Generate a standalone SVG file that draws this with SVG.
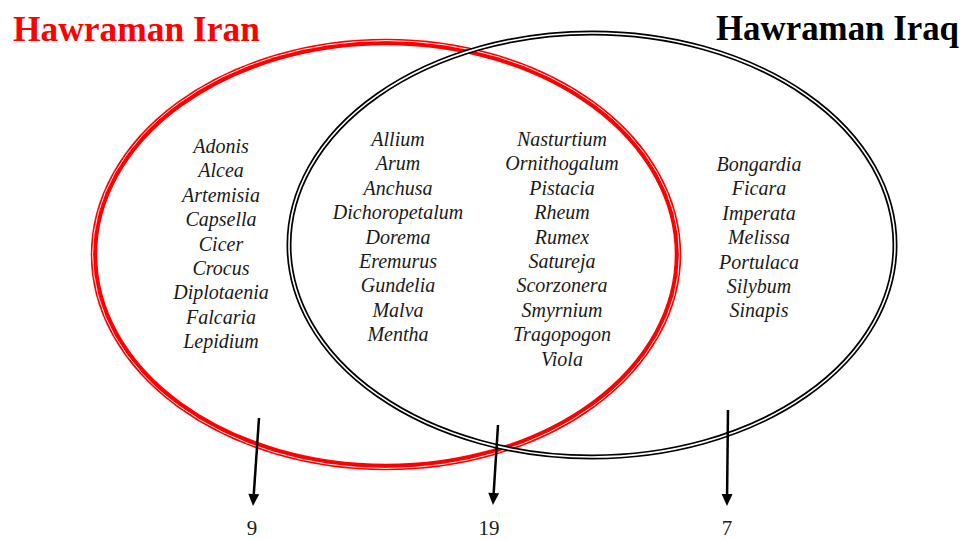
<svg xmlns="http://www.w3.org/2000/svg" width="966" height="539" viewBox="0 0 966 539">
  <style>
    .title { font-family: "Liberation Serif", "Times New Roman", serif; font-weight: bold; font-size: 35px; }
    .sp { font-family: "Liberation Serif", "Times New Roman", serif; font-style: italic; font-size: 20px; fill: #1a1a1a; text-anchor: middle; }
    .num { font-family: "Liberation Serif", "Times New Roman", serif; font-size: 21px; fill: #1a1a1a; text-anchor: middle; }
    .arrow { stroke: #000; stroke-width: 2.5; fill: none; }
    .gap { fill: none; stroke: #fff; }
  </style>
  <defs>
    <marker id="ah" markerUnits="userSpaceOnUse" markerWidth="12" markerHeight="12" refX="0" refY="0" orient="auto" viewBox="0 -5 11 10" overflow="visible">
      <path d="M0,-5 L11,0 L0,5 z" fill="#000"/>
    </marker>
  </defs>
  <rect width="966" height="539" fill="#fff"/>

  <g id="set-iran">
    <ellipse cx="386" cy="254.5" rx="292" ry="212.5" fill="none" stroke="#ff0000" stroke-width="6.5"/>
    <ellipse class="gap" cx="386" cy="254.5" rx="293.4" ry="213.9" stroke-width="0.9"/>
  </g>
  <g id="set-iraq">
    <ellipse cx="592" cy="245" rx="303" ry="212" fill="none" stroke="#000" stroke-width="5"/>
    <ellipse class="gap" cx="592" cy="245" rx="303" ry="212" stroke-width="1.6"/>
  </g>

  <g id="title-iran">
    <text class="title" x="13" y="41" fill="#ff0000" textLength="247" lengthAdjust="spacingAndGlyphs">Hawraman Iran</text>
  </g>
  <g id="title-iraq">
    <text class="title" x="716" y="40" fill="#000" textLength="243" lengthAdjust="spacingAndGlyphs">Hawraman Iraq</text>
  </g>

  <g id="iran-only">
    <text class="sp" x="221" y="153">Adonis</text>
    <text class="sp" x="221" y="177.4">Alcea</text>
    <text class="sp" x="221" y="201.8">Artemisia</text>
    <text class="sp" x="221" y="226.2">Capsella</text>
    <text class="sp" x="221" y="250.6">Cicer</text>
    <text class="sp" x="221" y="275">Crocus</text>
    <text class="sp" x="221" y="299.4">Diplotaenia</text>
    <text class="sp" x="221" y="323.8">Falcaria</text>
    <text class="sp" x="221" y="348.2">Lepidium</text>
  </g>

  <g id="shared">
    <text class="sp" x="398" y="146">Allium</text>
    <text class="sp" x="398" y="170.4">Arum</text>
    <text class="sp" x="398" y="194.8">Anchusa</text>
    <text class="sp" x="398" y="219.2">Dichoropetalum</text>
    <text class="sp" x="398" y="243.6">Dorema</text>
    <text class="sp" x="398" y="268">Eremurus</text>
    <text class="sp" x="398" y="292.4">Gundelia</text>
    <text class="sp" x="398" y="316.8">Malva</text>
    <text class="sp" x="398" y="341.2">Mentha</text>
    <text class="sp" x="562" y="146">Nasturtium</text>
    <text class="sp" x="562" y="170.4">Ornithogalum</text>
    <text class="sp" x="562" y="194.8">Pistacia</text>
    <text class="sp" x="562" y="219.2">Rheum</text>
    <text class="sp" x="562" y="243.6">Rumex</text>
    <text class="sp" x="562" y="268">Satureja</text>
    <text class="sp" x="562" y="292.4">Scorzonera</text>
    <text class="sp" x="562" y="316.8">Smyrnium</text>
    <text class="sp" x="562" y="341.2">Tragopogon</text>
    <text class="sp" x="562" y="365.6">Viola</text>
  </g>

  <g id="iraq-only">
    <text class="sp" x="759" y="171">Bongardia</text>
    <text class="sp" x="759" y="195.4">Ficara</text>
    <text class="sp" x="759" y="219.8">Imperata</text>
    <text class="sp" x="759" y="244.2">Melissa</text>
    <text class="sp" x="759" y="268.6">Portulaca</text>
    <text class="sp" x="759" y="293">Silybum</text>
    <text class="sp" x="759" y="317.4">Sinapis</text>
  </g>

  <g id="connectors">
    <line class="arrow" x1="259" y1="418" x2="253.8" y2="494" marker-end="url(#ah)"/>
    <line class="arrow" x1="498" y1="425" x2="493.7" y2="493" marker-end="url(#ah)"/>
    <line class="arrow" x1="728" y1="410" x2="727.1" y2="494" marker-end="url(#ah)"/>
  </g>

  <g id="counts">
    <text class="num" x="252" y="535">9</text>
    <text class="num" x="489" y="535">19</text>
    <text class="num" x="727" y="535">7</text>
  </g>
</svg>
